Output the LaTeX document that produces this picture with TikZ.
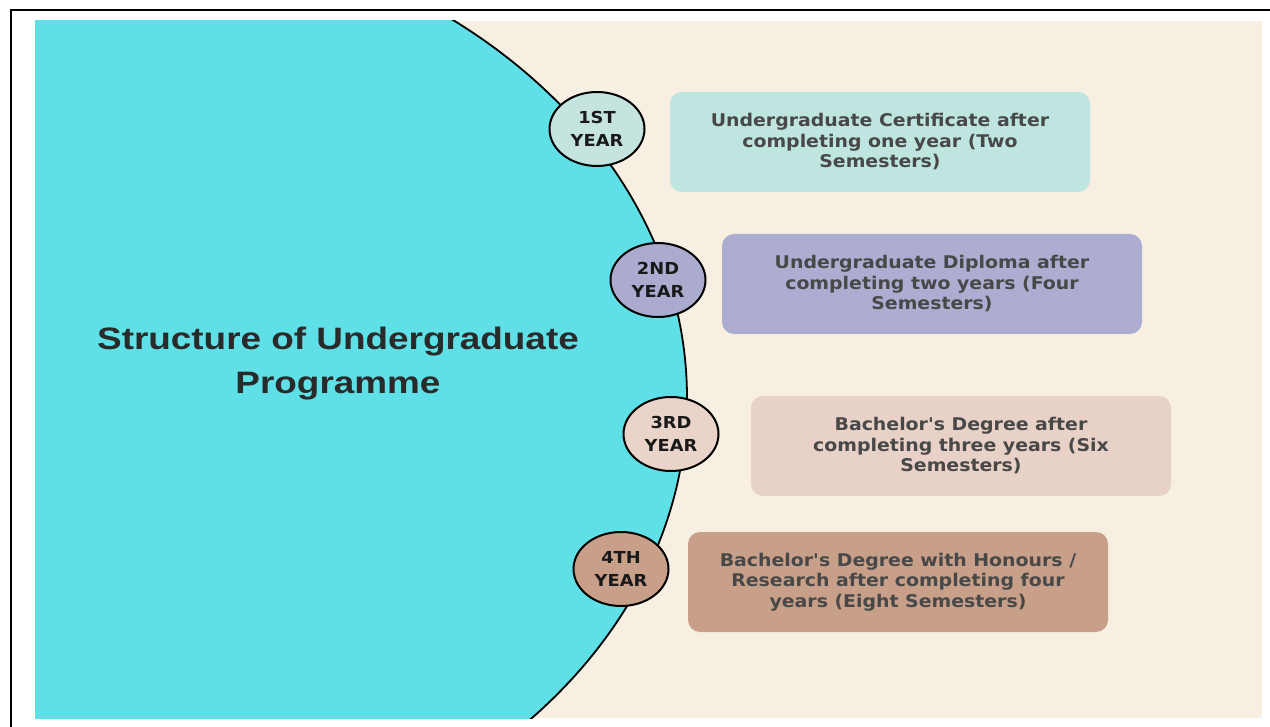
\documentclass[tikz,border=0pt]{standalone}
\usepackage{fontspec}
\usetikzlibrary{shapes.geometric}
\newfontfamily\titlefont{Liberation Sans}[FakeStretch=1.19]
\newfontfamily\boxfont{DejaVu Sans}[FakeStretch=1.08]
\definecolor{beige}{HTML}{F7EFE2}
\definecolor{cyanfill}{HTML}{5EE0E6}
\definecolor{boxA}{HTML}{BEE5DF}
\definecolor{ringA}{HTML}{C5E3DF}
\definecolor{boxB}{HTML}{ADADD1}
\definecolor{ringB}{HTML}{ABABD0}
\definecolor{boxC}{HTML}{E8D1C6}
\definecolor{ringC}{HTML}{EAD4CA}
\definecolor{boxD}{HTML}{C8A089}
\definecolor{ringD}{HTML}{C89F88}
\definecolor{boxtext}{HTML}{484848}
\definecolor{titletext}{HTML}{2A2A2A}
\tikzset{
  yearring/.style={ellipse, draw=black, line width=2pt, minimum width=95pt, minimum height=74pt, inner sep=0pt,
    align=center, text=black!90, font=\boxfont\bfseries\fontsize{16.5}{22.5}\selectfont},
  infobox/.style={rounded corners=12pt, minimum width=420pt, minimum height=100pt, inner sep=0pt,
    align=center, text=boxtext, font=\boxfont\bfseries\fontsize{17.5}{20.5}\selectfont},
  titlestyle/.style={align=center, text=titletext, font=\titlefont\bfseries\fontsize{31}{44}\selectfont},
  edgeline/.style={line width=1.8pt}
}
\begin{document}
\begin{tikzpicture}[x=1pt,y=-1pt]
\useasboundingbox (0,0) rectangle (1270,727);
\fill[beige] (35,21) rectangle (1262,718);
\begin{scope}
  \clip (35,21) rectangle (1262,718);
  \draw[edgeline, fill=cyanfill] (87,398) ellipse [x radius=600pt, y radius=477pt];
\end{scope}
\draw[line width=2pt] (11,727) -- (11,10) -- (1270,10);

\node[titlestyle] (title) at (338,364) {Structure of Undergraduate\\Programme};

\node[infobox, fill=boxA] (b1) at (880,142) {Undergraduate Certificate after\\completing one year (Two\\Semesters)};
\node[infobox, fill=boxB] (b2) at (932,284) {Undergraduate Diploma after\\completing two years (Four\\Semesters)};
\node[infobox, fill=boxC] (b3) at (961,446) {Bachelor's Degree after\\completing three years (Six\\Semesters)};
\node[infobox, fill=boxD] (b4) at (898,582) {Bachelor's Degree with Honours /\\Research after completing four\\years (Eight Semesters)};

\node[yearring, fill=ringA] (y1) at (597,129) {1ST\\YEAR};
\node[yearring, fill=ringB] (y2) at (658,280) {2ND\\YEAR};
\node[yearring, fill=ringC] (y3) at (671,434) {3RD\\YEAR};
\node[yearring, fill=ringD] (y4) at (621,569) {4TH\\YEAR};
\end{tikzpicture}
\end{document}
